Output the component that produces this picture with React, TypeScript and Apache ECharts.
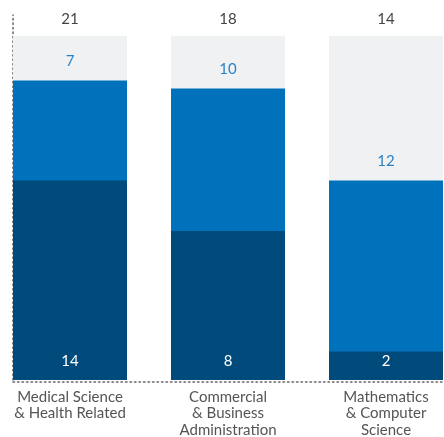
import React, { useEffect, useRef } from "react";
import * as echarts from "echarts";

const categories = [
  "Medical Science\n& Health Related",
  "Commercial\n& Business\nAdministration",
  "Mathematics\n& Computer\nScience",
];
const positions = [0, 1, 2];
// bar heights
const darkValues = [14, 10.45, 2];
const blueValues = [7, 10, 12];
const backgroundValues = [24.15, 24.15, 24.15];
// printed labels
const darkLabels = ["14", "8", "2"];
const blueLabels = ["7", "10", "12"];
const totalLabels = ["21", "18", "14"];

const FONT = "Lato, 'Open Sans', sans-serif";

export default function App() {
  const ref = useRef<HTMLDivElement>(null);
  useEffect(() => {
    if (!ref.current) return;
    const chart = echarts.init(ref.current, undefined, { renderer: "svg" });
    const dotted = { color: "#666", width: 1.5, type: [1.5, 3] as any };
    // blue segment sits on top of the dark one
    const stackedTop = darkValues.map((d, i) => d + blueValues[i]);
    chart.setOption({
      animation: false,
      textStyle: { fontFamily: FONT },
      grid: { left: 13, right: 0, top: 15, bottom: 55 },
      xAxis: {
        type: "value",
        min: -0.3608,
        max: 2.367,
        offset: 1.5,
        axisLine: { show: true, onZero: false, lineStyle: dotted },
        axisTick: { show: false },
        splitLine: { show: false },
        axisLabel: {
          customValues: positions,
          formatter: (v: number) => categories[Math.round(v)] ?? "",
          color: "#555",
          fontSize: 15,
          lineHeight: 16.5,
          margin: 6,
          fontFamily: FONT,
        },
      },
      yAxis: {
        type: "value",
        min: 0,
        max: 25.6,
        axisLine: { show: true, onZero: false, lineStyle: dotted },
        axisTick: { show: false },
        axisLabel: { show: false },
        splitLine: { show: false },
      },
      series: [
        {
          type: "bar",
          data: positions.map((p, i) => [p, backgroundValues[i]]),
          barWidth: 114,
          barGap: "-100%",
          itemStyle: { color: "#f0f1f3" },
          label: {
            show: true,
            position: "top",
            distance: 10,
            color: "#444",
            fontSize: 15,
            fontFamily: FONT,
            formatter: (p: any) => totalLabels[p.dataIndex],
          },
          silent: true,
        },
        {
          type: "bar",
          data: positions.map((p, i) => [p, stackedTop[i]]),
          barWidth: 114,
          barGap: "-100%",
          itemStyle: { color: "#0072bb" },
          label: {
            show: true,
            position: "top",
            distance: 13,
            color: "#2a82c6",
            fontSize: 15,
            fontFamily: FONT,
            formatter: (p: any) => blueLabels[p.dataIndex],
          },
        },
        {
          type: "bar",
          data: positions.map((p, i) => [p, darkValues[i]]),
          barWidth: 114,
          barGap: "-100%",
          itemStyle: { color: "#004b7b" },
          label: {
            show: true,
            position: "insideBottom",
            distance: 13,
            color: "#ffffff",
            fontSize: 15,
            fontFamily: FONT,
            formatter: (p: any) => darkLabels[p.dataIndex],
          },
        },
      ],
    });
    return () => chart.dispose();
  }, []);
  return (
    <div
      ref={ref}
      style={{ position: "fixed", left: 0, top: 0, width: 444, height: 437 }}
    />
  );
}
